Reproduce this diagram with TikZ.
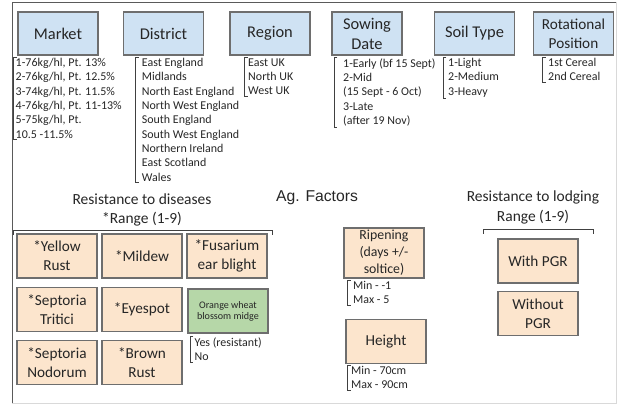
\documentclass[tikz,border=0pt]{standalone}
\usepackage{fontspec}
\setmainfont{Carlito}
\newfontfamily\agfont{Liberation Sans}
\usetikzlibrary{positioning, calc}

\definecolor{factorblue}{HTML}{CFE2F3}
\definecolor{traitorange}{HTML}{FCE5CD}
\definecolor{midgegreen}{HTML}{B6D7A8}
\definecolor{boxedge}{HTML}{6E6E6E}
\definecolor{frameedge}{HTML}{5A5A5A}
\definecolor{framelight}{HTML}{D9D9D9}

\tikzset{
    factor/.style={draw=boxedge, line width=1pt, fill=factorblue, align=center,
        minimum width=2.4cm, minimum height=1.29cm, inner sep=1pt,
        font=\fontsize{14}{17}\selectfont},
    trait/.style={draw=boxedge, line width=1pt, fill=traitorange, align=center,
        minimum width=2.4cm, minimum height=1.32cm, inner sep=1pt,
        font=\fontsize{13}{16.4}\selectfont},
    items/.style={anchor=north west, align=left, inner xsep=0pt, inner ysep=1pt,
        font=\fontsize{10.2}{12.2}\selectfont},
    bracketline/.style={draw=black!75, line width=0.5pt},
    heading/.style={align=center, font=\fontsize{13.2}{17}\selectfont}
}

\begin{document}
\begin{tikzpicture}[x=0.03cm, y=-0.03cm, text=black!85]

    \useasboundingbox (0,0) rectangle (617,405);

    \draw[frameedge, line width=0.8pt] (12,403) -- (12,2) -- (616,2);
    \draw[framelight, line width=0.8pt] (616,2) -- (616,403) -- (12,403);

    \node[factor] (market) at (58,33.5) {Market};
    \node[factor] (district) at (163.5,33.5) {District};
    \node[factor] (region) at (270,33.5) {Region};
    \node[factor, minimum width=2.1cm] (sowing) at (367,33.5) {Sowing\\Date};
    \node[factor] (soil) at (474.5,33.5) {Soil Type};
    \node[factor, font=\fontsize{13}{16}\selectfont] (rotation) at (573.5,33.5) {Rotational\\Position};

    \node[items] (marketlist) at (15.5,57) {1-76kg/hl, Pt. 13\%\\2-76kg/hl, Pt. 12.5\%\\3-74kg/hl, Pt. 11.5\%\\4-76kg/hl, Pt. 11-13\%\\5-75kg/hl, Pt.\\10.5 -11.5\%};
    \node[items] (districtlist) at (141.7,57) {East England\\Midlands\\North East England\\North West England\\South England\\South West England\\Northern Ireland\\East Scotland\\Wales};
    \node[items] (regionlist) at (248,57) {East UK\\North UK\\West UK};
    \node[items] (sowinglist) at (343,57) {1-Early (bf 15 Sept)\\2-Mid\\(15 Sept - 6 Oct)\\3-Late\\(after 19 Nov)};
    \node[items] (soillist) at (448,57) {1-Light\\2-Medium\\3-Heavy};
    \node[items] (rotationlist) at (548,57) {1st Cereal\\2nd Cereal};

    \node[heading] (diseasehead) at (142,210) {Resistance to diseases\\*Range (1-9)};
    \node[font=\agfont\fontsize{13.4}{16}\selectfont] (agfactors) at (317,198) {Ag. Factors};
    \node[heading] (lodginghead) at (533,207.5) {Resistance to lodging\\Range (1-9)};

    \node[trait] (yellow) at (57,256) {*Yellow\\Rust};
    \node[trait] (mildew) at (142,256) {*Mildew};
    \node[trait] (fusarium) at (227,256) {*Fusarium\\ear blight};
    \node[trait] (tritici) at (57,309.5) {*Septoria\\Tritici};
    \node[trait] (eyespot) at (142,309.5) {*Eyespot};
    \node[trait, fill=midgegreen, font=\fontsize{8.6}{9.4}\selectfont] (midge) at (228,311) {Orange wheat\\blossom midge};
    \node[trait] (nodorum) at (57,362.5) {*Septoria\\Nodorum};
    \node[trait] (brown) at (142,362.5) {*Brown\\Rust};
    \node[items] (midgelist) at (194.3,336) {Yes (resistant)\\No};

    \node[trait, minimum height=1.5cm, font=\fontsize{11.8}{14.5}\selectfont] (ripening) at (384,253) {Ripening\\(days +/-\\soltice)};
    \node[items] (ripeninglist) at (353,280) {Min - -1\\Max - 5};
    \node[trait] (height) at (386,341.5) {Height};
    \node[items] (heightlist) at (351,365) {Min - 70cm\\Max - 90cm};

    \node[trait] (withpgr) at (538,261) {With PGR};
    \node[trait] (withoutpgr) at (538,313.5) {Without\\PGR};

    \foreach \n/\g in {marketlist/2, districtlist/5.7, regionlist/3.4, sowinglist/7.7,
            soillist/4.3, rotationlist/5.1, midgelist/3.7, ripeninglist/5.1, heightlist/3.4}
        \draw[bracketline] ([xshift={3pt-\g pt}]\n.north west) -| ([xshift=-\g pt]\n.south west) -- ++(3pt,0);

    \coordinate (dl) at (13,230);
    \coordinate (dr) at (272,230);
    \coordinate (ll) at (483,229);
    \coordinate (lr) at (593,229);
    \draw[bracketline] ([yshift=-4pt]dl) -- (dl) -- (dr) -- ([yshift=-4pt]dr);
    \draw[bracketline] ([yshift=-4pt]ll) -- (ll) -- (lr) -- ([yshift=-4pt]lr);

\end{tikzpicture}
\end{document}
